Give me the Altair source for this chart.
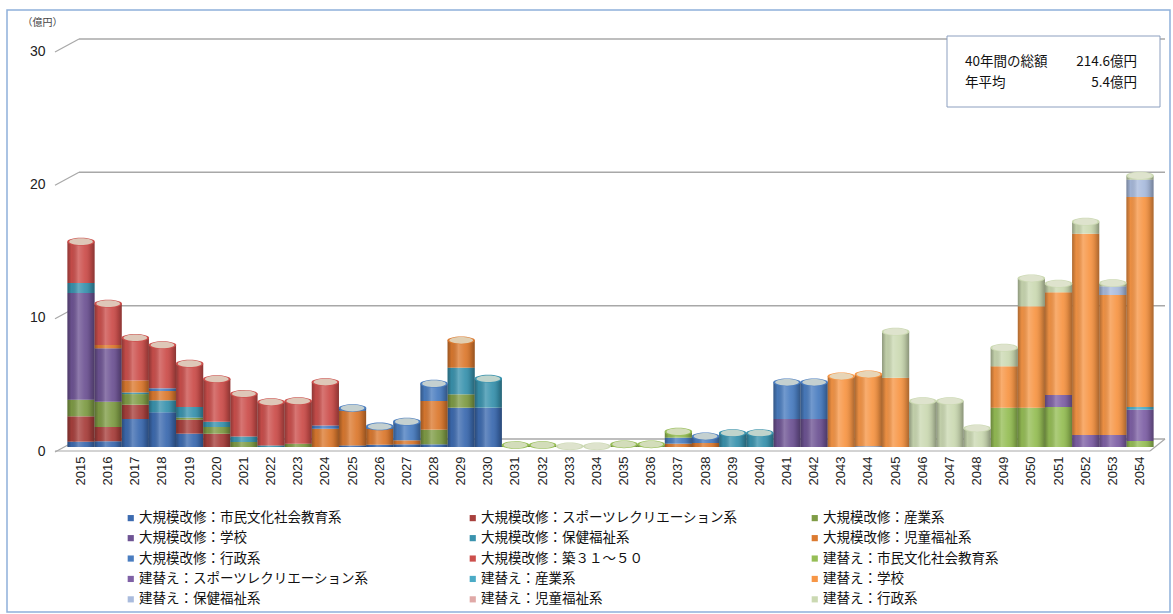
import altair as alt
import pandas as pd

# ---- data (億円) -------------------------------------------------------
years = list(range(2015, 2055))

series_names = [
    "大規模改修：市民文化社会教育系",
    "大規模改修：スポーツレクリエーション系",
    "大規模改修：産業系",
    "大規模改修：学校",
    "大規模改修：保健福祉系",
    "大規模改修：児童福祉系",
    "大規模改修：行政系",
    "大規模改修：築３１～５０",
    "建替え：市民文化社会教育系",
    "建替え：スポーツレクリエーション系",
    "建替え：産業系",
    "建替え：学校",
    "建替え：保健福祉系",
    "建替え：児童福祉系",
    "建替え：行政系",
]

series_colors = [
    "#3d6bb0", "#a8403d", "#7f9c46", "#6e5494", "#3a93ae",
    "#dc7a30", "#4a7dc0", "#cc4f4c", "#96be56", "#7f61a6",
    "#4babc6", "#f79646", "#a9bbdd", "#e0a9a7", "#cbd9b2",
]

#            2015 ........................................ 2024
#            2025 ........................................ 2034
#            2035 ........................................ 2044
#            2045 ........................................ 2054
kaishu_shimin = [0.4, 0.43, 2.1, 2.6, 1.0, 0, 0, 0, 0, 0,
                 0.12, 0.17, 0.2, 0.2, 2.95, 2.95, 0, 0, 0, 0,
                 0, 0, 0, 0, 0, 0, 0, 0, 0, 0,
                 0, 0, 0, 0, 0, 0, 0, 0, 0, 0]
kaishu_sports = [1.9, 1.07, 1.07, 0, 1.05, 1.0, 0, 0, 0, 0,
                 0, 0, 0, 0, 0, 0, 0, 0, 0, 0,
                 0, 0, 0, 0, 0, 0, 0, 0, 0, 0,
                 0, 0, 0, 0, 0, 0, 0, 0, 0, 0]
kaishu_sangyo = [1.25, 1.9, 0.8, 0, 0.15, 0.5, 0.37, 0, 0.25, 0,
                 0, 0, 0, 1.1, 1.0, 0, 0, 0, 0, 0,
                 0, 0, 0, 0, 0, 0, 0, 0, 0, 0,
                 0, 0, 0, 0, 0, 0, 0, 0, 0, 0]
kaishu_gakko = [8.0, 4.0, 0, 0, 0, 0, 0, 0, 0, 0,
                0, 0, 0, 0, 0, 0, 0, 0, 0, 0,
                0, 0, 0, 0, 0, 0, 2.1, 2.1, 0, 0,
                0, 0, 0, 0, 0, 0, 0, 0, 0, 0]
kaishu_hoken = [0.75, 0, 0.12, 0.9, 0.8, 0.4, 0.42, 0.12, 0, 0,
                0, 0, 0, 0, 2.0, 2.17, 0, 0, 0, 0,
                0, 0, 0, 0, 1.05, 1.05, 0, 0, 0, 0,
                0, 0, 0, 0, 0, 0, 0, 0, 0, 0]
kaishu_jido = [0, 0.25, 0.9, 0.7, 0, 0, 0, 0, 0, 1.37,
               2.6, 1.2, 0.3, 2.15, 2.05, 0, 0, 0, 0, 0,
               0, 0, 0.25, 0.3, 0, 0, 0, 0, 0, 0,
               0, 0, 0, 0, 0, 0, 0, 0, 0, 0]
kaishu_gyosei = [0, 0, 0, 0.2, 0, 0, 0, 0, 0, 0.25,
                 0.2, 0.17, 1.4, 1.3, 0, 0, 0, 0, 0, 0,
                 0, 0, 0.45, 0.5, 0, 0, 2.75, 2.75, 0, 0.05,
                 0, 0, 0, 0, 0, 0, 0, 0, 0, 0]
kaishu_chiku = [3.1, 3.1, 3.2, 3.25, 3.25, 3.2, 3.2, 3.25, 3.2, 3.25,
                0, 0, 0, 0, 0, 0, 0, 0, 0, 0,
                0, 0, 0, 0, 0, 0, 0, 0, 0, 0,
                0, 0, 0, 0, 0, 0, 0, 0, 0, 0]
tatekae_shimin = [0, 0, 0, 0, 0, 0, 0, 0, 0, 0,
                  0, 0, 0, 0, 0, 0, 0.15, 0.15, 0, 0,
                  0.2, 0.2, 0.45, 0, 0, 0, 0, 0, 0, 0,
                  0, 0, 0, 0, 2.95, 2.95, 3.0, 0, 0, 0.45]
tatekae_sports = [0, 0, 0, 0, 0, 0, 0, 0, 0, 0,
                  0, 0, 0, 0, 0, 0, 0, 0, 0, 0,
                  0, 0, 0, 0, 0, 0, 0, 0, 0, 0,
                  0, 0, 0, 0, 0, 0, 0.9, 0.9, 0.9, 2.35]
tatekae_sangyo = [0, 0, 0, 0, 0, 0, 0, 0, 0, 0,
                  0, 0, 0, 0, 0, 0, 0, 0, 0, 0,
                  0, 0, 0, 0, 0, 0, 0, 0, 0, 0,
                  0, 0, 0, 0, 0, 0, 0, 0, 0, 0.2]
tatekae_gakko = [0, 0, 0, 0, 0, 0, 0, 0, 0, 0,
                 0, 0, 0, 0, 0, 0, 0, 0, 0, 0,
                 0, 0, 0, 0, 0, 0, 0, 0, 5.3, 5.4,
                 5.2, 0, 0, 0, 3.1, 7.6, 7.7, 15.1, 10.5, 15.75]
tatekae_hoken = [0, 0, 0, 0, 0, 0, 0, 0, 0, 0,
                 0, 0, 0, 0, 0, 0, 0, 0, 0, 0,
                 0, 0, 0, 0, 0, 0, 0, 0, 0, 0,
                 0, 0, 0, 0, 0, 0, 0, 0, 0.65, 1.3]
tatekae_jido = [0] * 40
tatekae_gyosei = [0, 0, 0, 0, 0, 0, 0, 0, 0, 0,
                  0, 0, 0, 0, 0, 0, 0, 0, 0.05, 0.05,
                  0, 0, 0, 0, 0, 0, 0, 0, 0, 0,
                  3.45, 3.45, 3.45, 1.4, 1.4, 2.1, 0.65, 0.9, 0.25, 0.3]

series_values = [
    kaishu_shimin, kaishu_sports, kaishu_sangyo, kaishu_gakko, kaishu_hoken,
    kaishu_jido, kaishu_gyosei, kaishu_chiku, tatekae_shimin, tatekae_sports,
    tatekae_sangyo, tatekae_gakko, tatekae_hoken, tatekae_jido, tatekae_gyosei,
]

y_ticks = [0, 10, 20, 30]
summary_labels = ["40年間の総額", "年平均"]
summary_values = ["214.6億円", "5.4億円"]

# ---- tables -------------------------------------------------------------
rows = []
for k, (name, vals) in enumerate(zip(series_names, series_values)):
    for yr, v in zip(years, vals):
        if v > 0:
            rows.append({"year": yr, "series": name, "order": k, "value": v})
df = pd.DataFrame(rows)

tops = (df.sort_values("order").groupby("year")
          .agg(total=("value", "sum"), series=("series", "last"))
          .reset_index())
grid_df = pd.DataFrame({"v": y_ticks})

# the legend grid is filled column by column; reorder so it reads row by row
N_COLS, N_ROWS = 3, 5
legend_order = [r * N_COLS + c for c in range(N_COLS) for r in range(N_ROWS)]
legend_domain = [series_names[i] for i in legend_order]
legend_range = [series_colors[i] for i in legend_order]

W, H = 1097, 400
YS = alt.Scale(domain=[0, 30], nice=False)
XS = alt.Scale(domain=years, paddingInner=0, paddingOuter=0.2)
CS = alt.Scale(domain=legend_domain, range=legend_range)
GRID = "#a8a8a8"

x_axis = alt.Axis(title=None, labelAngle=-90, labelFontSize=13, labelPadding=9,
                  labelColor="#222", labelFont="Liberation Sans",
                  ticks=False, domain=False, grid=False)
y_axis = alt.Axis(title="（億円）", titleAngle=0, titleX=-40, titleY=-25,
                  titleAlign="left", titleBaseline="middle", titleFontSize=10,
                  titleFontWeight="normal", titleColor="#444",
                  titleFont="Noto Sans CJK JP",
                  values=y_ticks, labelFontSize=14, labelColor="#222",
                  labelFont="Liberation Sans", labelPadding=17, labelOffset=4,
                  ticks=False, domain=False, grid=False)

def Y(field):
    return alt.Y(field, scale=YS, axis=y_axis)

def X():
    return alt.X("year:O", scale=XS, axis=x_axis)

# 3D-style back wall lines and their slanted connectors to the labels
back_lines = alt.Chart(grid_df).mark_rule(color=GRID, strokeWidth=1.5, yOffset=-8).encode(
    y=Y("v:Q"), x=alt.value(17), x2=alt.value(W + 6))
connectors = alt.Chart(grid_df).mark_rule(color=GRID, strokeWidth=1.2, yOffset=5, y2Offset=-8).encode(
    y=Y("v:Q"), y2="v:Q", x=alt.value(-7), x2=alt.value(17))
floor_front = alt.Chart(pd.DataFrame({"v": [0]})).mark_rule(color=GRID, strokeWidth=1.2, yOffset=4).encode(
    y=Y("v:Q"), x=alt.value(-7), x2=alt.value(W - 9))
floor_side = alt.Chart(pd.DataFrame({"v": [0]})).mark_rule(color=GRID, strokeWidth=1.2, yOffset=4, y2Offset=-8).encode(
    y=Y("v:Q"), y2="v:Q", x=alt.value(W - 9), x2=alt.value(W + 6))

bars = alt.Chart(df).mark_bar(strokeWidth=0).encode(
    x=X(),
    y=alt.Y("value:Q", stack="zero", scale=YS, axis=y_axis),
    color=alt.Color("series:N", scale=CS, legend=alt.Legend(
        title=None, orient="none", legendX=62, legendY=464, columns=N_COLS,
        gridAlign="all", columnPadding=70, rowPadding=5.4, padding=0,
        symbolType="square", symbolSize=38, symbolStrokeWidth=0,
        labelFontSize=13.5, labelLimit=400, labelColor="#111",
        labelFont="Noto Sans CJK JP", labelOffset=1.5)),
    order=alt.Order("order:Q", sort="ascending"),
)

# cylinder shading across each column
shade = alt.Gradient(
    gradient="linear", x1=0, x2=1, y1=0, y2=0,
    stops=[
        alt.GradientStop(color="rgba(0,0,0,0.30)", offset=0),
        alt.GradientStop(color="rgba(0,0,0,0.05)", offset=0.15),
        alt.GradientStop(color="rgba(255,255,255,0.22)", offset=0.4),
        alt.GradientStop(color="rgba(255,255,255,0.06)", offset=0.65),
        alt.GradientStop(color="rgba(0,0,0,0.12)", offset=0.85),
        alt.GradientStop(color="rgba(0,0,0,0.32)", offset=1),
    ],
)
shading = alt.Chart(tops).mark_bar(fill=shade, strokeWidth=0).encode(
    x=X(), y=Y("total:Q"))

ELLIPSE = "M -1 0 A 1 0.28 0 1 1 1 0 A 1 0.28 0 1 1 -1 0 Z"
cap_rim = alt.Chart(tops).mark_point(shape=ELLIPSE, size=760, filled=True, opacity=1).encode(
    x=X(), y=Y("total:Q"),
    color=alt.Color("series:N", scale=CS, legend=None),
)
cap_top = alt.Chart(tops).mark_point(shape=ELLIPSE, size=560, filled=True,
                                     color="#e2e5d3", opacity=0.8).encode(
    x=X(), y=Y("total:Q"))

# summary box
box = alt.Chart(pd.DataFrame({"k": [0]})).mark_rect(
    fill="white", stroke="#8c9fbf", strokeWidth=1).encode(
    x=alt.value(885), x2=alt.value(1098), y=alt.value(-11), y2=alt.value(60))
sum_lab = alt.Chart(pd.DataFrame({"t": ["\n".join(summary_labels)]})).mark_text(
    align="left", baseline="middle", fontSize=13.5, lineHeight=21, lineBreak="\n",
    font="Noto Sans CJK JP", color="#111").encode(
    text="t:N", x=alt.value(903), y=alt.value(15))
sum_val = alt.Chart(pd.DataFrame({"t": ["\n".join(summary_values)]})).mark_text(
    align="right", baseline="middle", fontSize=13.5, lineHeight=21, lineBreak="\n",
    font="Noto Sans CJK JP", color="#111").encode(
    text="t:N", x=alt.value(1075), y=alt.value(15))

# outer frame
frame = alt.Chart(pd.DataFrame({"k": [0]})).mark_rect(
    fill=None, stroke="#8fb0da", strokeWidth=1.5).encode(
    x=alt.value(-55), x2=alt.value(1108), y=alt.value(-37), y2=alt.value(565))

chart = alt.layer(
    frame, back_lines, connectors, floor_front, floor_side,
    bars, shading, cap_rim, cap_top, box, sum_lab, sum_val,
).properties(
    width=W, height=H,
    autosize=alt.AutoSizeParams(type="none"),
    padding={"left": 62, "top": 47, "right": 14, "bottom": 167},
    background="white",
).configure_view(stroke=None)

chart.save("out.html", embed_options={"renderer": "svg", "actions": False})
